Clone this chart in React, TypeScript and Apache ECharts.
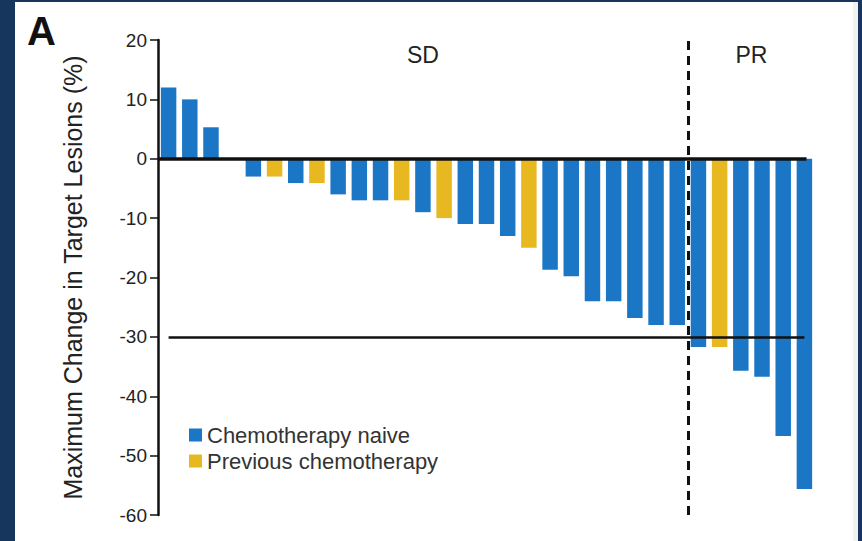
import React, { useEffect, useRef } from "react";
import * as echarts from "echarts";

const patients = Array.from({ length: 31 }, (_, i) => `P${i + 1}`);
// Maximum change in target lesions (%), by patient; "-" = other group
const chemoNaive: (number | string)[] = [
  12, 10, 5.3, 0, -3, "-", -4.1, "-", -6, -7, -7, "-", -9, "-", -11, -11, -13, "-",
  -18.7, -19.8, -24, -24, -26.8, -28, -28, -31.7, "-", -35.7, -36.7, -46.7, -55.6,
];
const previousChemo: (number | string)[] = [
  "-", "-", "-", "-", "-", -3, "-", -4.1, "-", "-", "-", -7, "-", -10, "-", "-", "-", -15,
  "-", "-", "-", "-", "-", "-", "-", "-", -31.7, "-", "-", "-", "-",
];
const yTicks = { min: -60, max: 20, interval: 10 };
const responseThreshold = -30;
const sdPrBoundary = 24.5; // between patient 25 and 26
const regions = [
  { name: "SD", from: -0.5, to: 24.5 },
  { name: "PR", from: 24.5, to: 30.5 },
];

const BLUE = "#1c76c6";
const YELLOW = "#e8b821";
const FONT = "'Liberation Sans', Arial, sans-serif";

export default function App() {
  const ref = useRef<HTMLDivElement>(null);
  useEffect(() => {
    const chart = echarts.init(ref.current!, undefined, { renderer: "svg" });
    chart.setOption({
      animation: false,
      backgroundColor: "#17365d",
      graphic: [
        { type: "rect", z: -1, shape: { x: 15, y: 2, width: 838, height: 541 }, style: { fill: "#ffffff" } },
        { type: "rect", z: -1, shape: { x: 853, y: 2, width: 5, height: 541 }, style: { fill: "#f2f2f2" } },
        {
          type: "text",
          left: 27,
          top: 11,
          style: { text: "A", font: `bold 40px ${FONT}`, fill: "#111" },
        },
      ],
      grid: { left: 158, right: 47, top: 40, bottom: 26, containLabel: false },
      legend: {
        orient: "vertical",
        left: 184,
        top: 419,
        itemWidth: 13,
        itemHeight: 13,
        itemGap: 4,
        icon: "rect",
        textStyle: { fontSize: 22, color: "#333", fontFamily: FONT },
        data: ["Chemotherapy naive", "Previous chemotherapy"],
      },
      xAxis: [
        {
          type: "category",
          data: patients,
          axisLine: { show: false },
          axisTick: { show: false },
          axisLabel: { show: false },
        },
        { type: "value", min: -0.5, max: 30.5, show: false },
      ],
      yAxis: {
        type: "value",
        min: yTicks.min,
        max: yTicks.max,
        interval: yTicks.interval,
        name: "Maximum Change in Target Lesions (%)",
        nameLocation: "middle",
        nameGap: 73,
        nameTextStyle: { fontSize: 25, color: "#222", fontFamily: FONT },
        axisLine: { show: true, onZero: false, lineStyle: { color: "#111", width: 2.5 } },
        axisTick: { show: true, length: 8, lineStyle: { color: "#111", width: 1.5 } },
        axisLabel: { fontSize: 19, color: "#222", fontFamily: FONT, margin: 11 },
        splitLine: { show: false },
      },
      series: [
        {
          name: "Chemotherapy naive",
          type: "bar",
          stack: "all",
          data: chemoNaive,
          barWidth: "73%",
          itemStyle: { color: BLUE },
          z: 3,
        },
        {
          name: "Previous chemotherapy",
          type: "bar",
          stack: "all",
          data: previousChemo,
          barWidth: "73%",
          itemStyle: { color: YELLOW },
          z: 3,
        },
        {
          name: "annotations",
          type: "line",
          xAxisIndex: 1,
          data: [],
          z: 5,
          markLine: {
            silent: true,
            symbol: "none",
            label: { show: false },
            data: [
              [
                { coord: [-0.5, 0], lineStyle: { color: "#111", width: 3.5, type: "solid" } },
                { coord: [30.1, 0] },
              ],
              [
                { coord: [0, responseThreshold], lineStyle: { color: "#111", width: 2.5, type: "solid" } },
                { coord: [30, responseThreshold] },
              ],
              {
                xAxis: sdPrBoundary,
                lineStyle: { color: "#111", width: 3, type: [9, 6] },
              },
            ],
          },
          markArea: {
            silent: true,
            itemStyle: { color: "rgba(0,0,0,0)" },
            label: {
              show: true,
              position: "insideTop",
              distance: 3,
              fontSize: 23,
              color: "#222",
              fontFamily: FONT,
            },
            data: regions.map((r) => [{ name: r.name, xAxis: r.from }, { xAxis: r.to }]),
          },
        },
      ],
    });
    return () => chart.dispose();
  }, []);
  return (
    <div
      ref={ref}
      style={{ position: "fixed", left: 0, top: 0, width: 862, height: 541 }}
    />
  );
}
